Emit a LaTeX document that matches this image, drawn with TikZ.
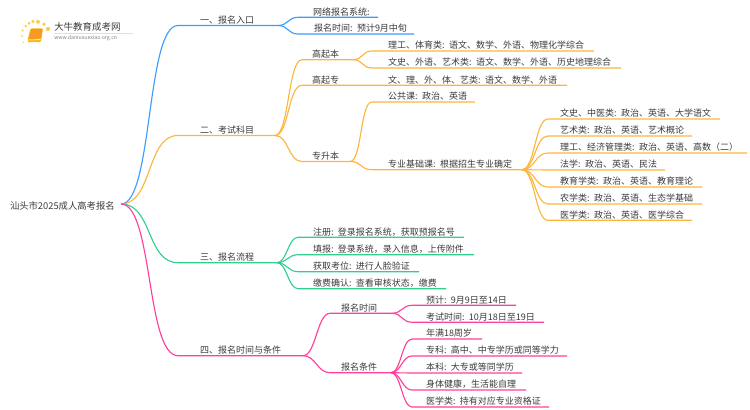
\documentclass[tikz,border=0pt]{standalone}
\usepackage{fontspec}
\setmainfont{Noto Sans CJK SC}
\usepackage{xcolor}
\usetikzlibrary{calc}
\newdimen\pxu \pxu=0.75pt
\definecolor{inkgray}{HTML}{3A3A3A}
\definecolor{bluebr}{HTML}{3D9BFF}
\definecolor{orangebr}{HTML}{FDB63C}
\definecolor{greenbr}{HTML}{2FCF8E}
\definecolor{pinkbr}{HTML}{FF3F9A}
\definecolor{dotyellow}{HTML}{FFCB52}
\definecolor{bookorange}{HTML}{F59A23}

\begin{document}
\begin{tikzpicture}[
    x=0.75pt, y=-0.75pt,
    every node/.style={font=\fontsize{6.75pt}{8pt}\selectfont, text=inkgray},
    item/.style 2 args={anchor=south west, inner xsep=0pt, inner ysep=0.6\pxu, outer sep=0pt, align=left,
        text height=7.5\pxu, text depth=1.5\pxu, text width=#1\pxu, execute at begin node={\hspace*{#2\pxu}}},
    link/.style={out=0, in=180, distance=#1\pxu, line width=0.85pt},
    bluelink/.style={draw=bluebr, link=#1},
    orangelink/.style={draw=orangebr, link=#1},
    greenlink/.style={draw=greenbr, link=#1},
    pinklink/.style={draw=pinkbr, link=#1}
]
\useasboundingbox (0,0) rectangle (750,410);

% logo
\foreach \dotx/\doty/\dotr in {25.7/26/1.4, 29/23.3/1.7, 33/21.5/1.9, 38/21.8/2, 44/24.3/1.9, 48/29/2.2, 22.7/30.5/1.2, 22/36/1, 23.3/42.3/0.8}
    \fill[dotyellow] (\dotx,\doty) circle (\dotr);
\fill[bookorange!70!yellow, rounded corners=0.8pt] (30.5,28.5) -- (43,28.5) -- (41,42) -- (28,42.3) -- (27.6,40) -- cycle;
\fill[bookorange, rounded corners=0.6pt] (31,29) -- (42.5,29) -- (40.5,38.5) -- (29,39) -- cycle;
\draw[white, line width=0.4pt] (29,40) -- (40.5,39.6);
\node[anchor=west, inner sep=0pt, font=\fontsize{7.1pt}{8pt}\selectfont] (logoname) at (54,26.5) {大牛教育成考网};
\node[anchor=west, inner sep=0pt, font=\fontsize{3.9pt}{5pt}\selectfont, text=gray] (logourl) at (54,38.5) {www.daniuxuexiao.org.cn};
\draw[black!12, line width=0.4pt] (logoname.south west) ++(0,2) -- ++(79,0);

% root
\node[item={111}{0}, anchor=west, text height=13\pxu, text depth=2\pxu, font=\fontsize{7pt}{8pt}\selectfont] (root) at (10,204) {汕头市2025成人高考报名};

% first level
\node[item={100}{22}] (entry) at (178,25.5) {一、报名入口};
\node[item={97}{22}] (subject) at (178,135.5) {二、考试科目};
\node[item={99}{22}] (process) at (178,262.7) {三、报名流程};
\node[item={125}{22}] (timecond) at (178,355.7) {四、报名时间与条件};

\draw[bluelink=32] (root.east) to (entry.south west) -- (entry.south east);
\draw[orangelink=32] (root.east) to (subject.south west) -- (subject.south east);
\draw[greenlink=32] (root.east) to (process.south west) -- (process.south east);
\draw[pinklink=32] (root.east) to (timecond.south west) -- (timecond.south east);

% entry
\node[item={80}{15}] (netsys) at (298,17.3) {网络报名系统:};
\node[item={116}{16}] (entrytime) at (298,34) {报名时间: 预计9月中旬};
\draw[bluelink=10] (entry.south east) to (netsys.south west) -- (netsys.south east);
\draw[bluelink=10] (entry.south east) to (entrytime.south west) -- (entrytime.south east);

% subjects
\node[item={51}{10}] (gqb) at (302,59.7) {高起本};
\node[item={265}{10}] (gqz) at (302,85.3) {高起专};
\node[item={48}{10}] (zsb) at (302,161.5) {专升本};
\draw[orangelink=14] (subject.south east) to (gqb.south west) -- (gqb.south east);
\draw[orangelink=14] (subject.south east) to (gqz.south west) -- (gqz.south east);
\draw[orangelink=14] (subject.south east) to (zsb.south west) -- (zsb.south east);
\node[anchor=south west, item={180}{0}] (gqzsub) at (388,85.3) {文、理、外、体、艺类: 语文、数学、外语};

\node[item={222}{16}] (gqbsci) at (372,51) {理工、体育类: 语文、数学、外语、物理化学综合};
\node[item={249}{16}] (gqbart) at (372,68) {文史、外语、艺术类: 语文、数学、外语、历史地理综合};
\draw[orangelink=10] (gqb.south east) to (gqbsci.south west) -- (gqbsci.south east);
\draw[orangelink=10] (gqb.south east) to (gqbart.south west) -- (gqbart.south east);

\node[item={103}{16}] (public) at (372,102) {公共课: 政治、英语};
\node[item={150}{16}] (basic) at (372,169.7) {专业基础课: 根据招生专业确定};
\draw[orangelink=12] (zsb.south east) to (public.south west) -- (public.south east);
\draw[orangelink=12] (zsb.south east) to (basic.south west) -- (basic.south east);

\node[item={172}{12}] (bwen) at (548,119) {文史、中医类: 政治、英语、大学语文};
\node[item={144}{12}] (byi) at (548,136) {艺术类: 政治、英语、艺术概论};
\node[item={199}{12}] (bli) at (548,153) {理工、经济管理类: 政治、英语、高数（二）};
\node[item={117}{12}] (bfa) at (548,170) {法学: 政治、英语、民法};
\node[item={154}{12}] (bjiao) at (548,187) {教育学类: 政治、英语、教育理论};
\node[item={154}{12}] (bnong) at (548,204) {农学类: 政治、英语、生态学基础};
\node[item={144}{12}] (byixue) at (548,220.3) {医学类: 政治、英语、医学综合};
\foreach \leaf in {bwen,byi,bli,bfa,bjiao,bnong,byixue}
    \draw[orangelink=13] (basic.south east) to (\leaf.south west) -- (\leaf.south east);

% process
\node[item={166}{15}] (reg) at (298,237.3) {注册: 登录报名系统，获取预报名号};
\node[item={176}{15}] (fill) at (298,254.7) {填报: 登录系统，录入信息，上传附件};
\node[item={121}{15}] (seat) at (298,271.7) {获取考位: 进行人脸验证};
\node[item={148}{15}] (pay) at (298,288.7) {缴费确认: 查看审核状态，缴费};
\foreach \leaf in {reg,fill,seat,pay}
    \draw[greenlink=10] (process.south east) to (\leaf.south west) -- (\leaf.south east);

% time and conditions
\node[item={62}{11}] (regtime) at (330,313.3) {报名时间};
\node[item={61}{11}] (regcond) at (330,372.7) {报名条件};
\draw[pinklink=13] (timecond.south east) to (regtime.south west) -- (regtime.south east);
\draw[pinklink=13] (timecond.south east) to (regcond.south west) -- (regcond.south east);

\node[item={104}{14}] (expect) at (412,305.3) {预计: 9月9日至14日};
\node[item={132}{14}] (examtime) at (412,322.3) {考试时间: 10月18日至19日};
\draw[pinklink=10] (regtime.south east) to (expect.south west) -- (expect.south east);
\draw[pinklink=10] (regtime.south east) to (examtime.south west) -- (examtime.south east);

\node[item={70}{14}] (age) at (412,339) {年满18周岁};
\node[item={155}{14}] (zhuan) at (412,356) {专科: 高中、中专学历或同等学力};
\node[item={110}{14}] (ben) at (412,373) {本科: 大专或等同学历};
\node[item={114}{14}] (health) at (412,390) {身体健康，生活能自理};
\node[item={137}{14}] (med) at (412,407) {医学类: 持有对应专业资格证};
\foreach \leaf in {age,zhuan,ben,health,med}
    \draw[pinklink=10] (regcond.south east) to (\leaf.south west) -- (\leaf.south east);
\end{tikzpicture}
\end{document}
